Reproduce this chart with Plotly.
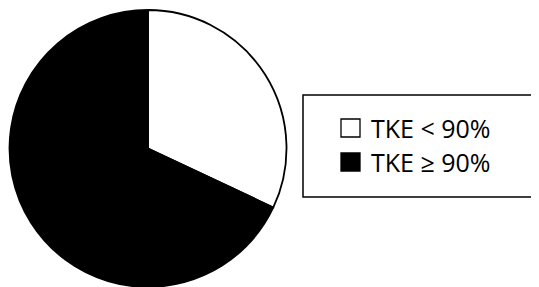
import plotly.graph_objects as go

labels = ["TKE < 90%", "TKE ≥ 90%"]
values = [32, 68]
colors = ["#ffffff", "#000000"]

OFF = 8  # page body margin offset
W, H = 539 - OFF, 287 - OFF
MT = 2
PH = H - MT

def px(x):
    return (x - OFF) / W

def py(y):
    return (H - (y - OFF)) / PH

fig = go.Figure()
fig.add_trace(go.Pie(
    labels=labels, values=values, sort=False, direction="clockwise", rotation=0,
    marker=dict(colors=colors, line=dict(color="#000000", width=1.8)),
    textinfo="none", hoverinfo="label+percent", showlegend=False,
    domain=dict(x=[px(9), px(287)], y=[0, 1]),
))

shapes = [dict(type="rect", xref="paper", yref="paper",
               x0=px(303), x1=px(580), y0=py(197), y1=py(95),
               line=dict(color="#000000", width=1.5), fillcolor="rgba(0,0,0,0)")]
annotations = []
row_y = [128, 162]
for lab, col, yc in zip(labels, colors, row_y):
    shapes.append(dict(type="rect", xref="paper", yref="paper",
                       x0=px(341), x1=px(360), y0=py(yc + 9), y1=py(yc - 9),
                       line=dict(color="#000000", width=1.3), fillcolor=col))
    annotations.append(dict(text=lab, xref="paper", yref="paper", x=px(369), y=py(yc),
                            xanchor="left", yanchor="middle", showarrow=False,
                            font=dict(family="Open Sans", size=25, color="#000000")))

fig.update_layout(
    width=W, height=H, margin=dict(l=0, r=0, t=MT, b=0),
    paper_bgcolor="#ffffff", plot_bgcolor="#ffffff",
    shapes=shapes, annotations=annotations, showlegend=False,
)
fig.write_html("out.html")
